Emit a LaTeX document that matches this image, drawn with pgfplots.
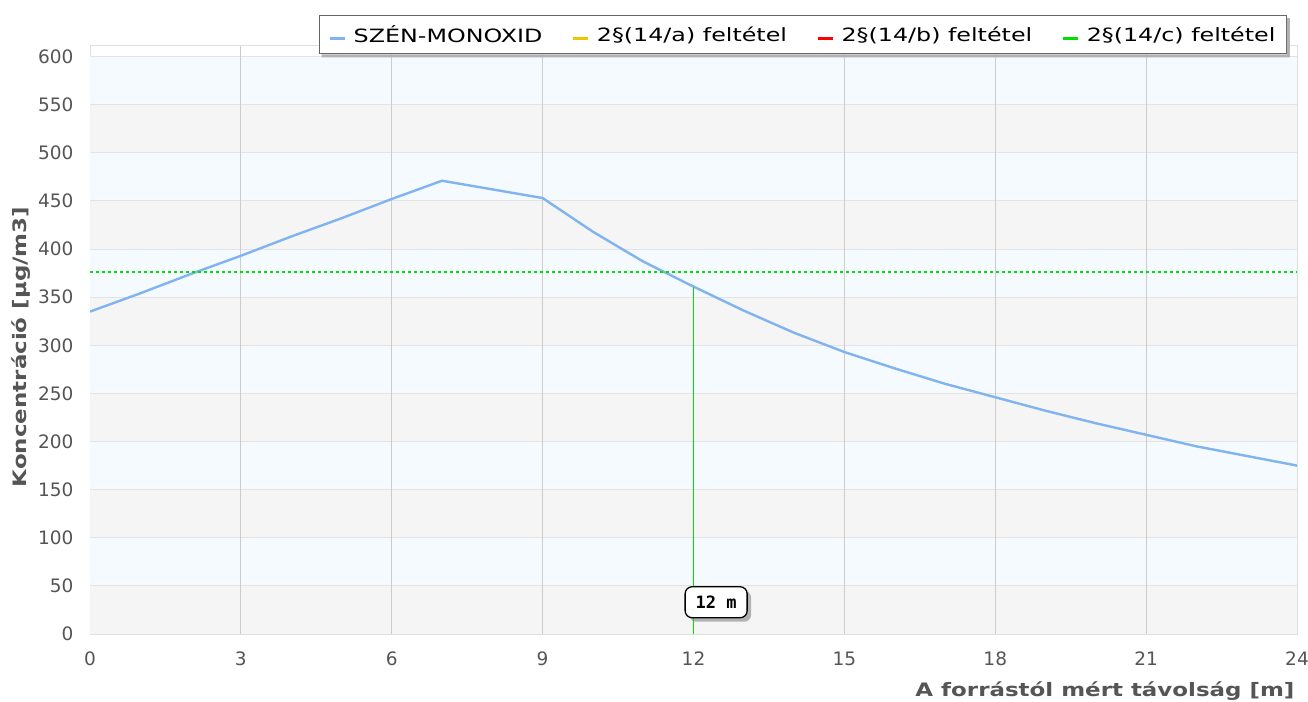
\documentclass[border=0pt]{standalone}
\usepackage{pgfplots}
\pgfplotsset{compat=1.18}
\usepackage{fontspec}
\setmainfont{DejaVu Sans}
\newfontfamily\monofont{DejaVu Sans Mono}
\newfontfamily\widefont[FakeStretch=1.24]{DejaVu Sans}
\newfontfamily\legfont[FakeStretch=1.3]{DejaVu Sans}
\definecolor{bandblue}{HTML}{F5FAFF}
\definecolor{bandgray}{HTML}{F5F5F5}
\definecolor{gridv}{HTML}{CCCCCC}
\definecolor{gridh}{HTML}{E3E3E3}
\definecolor{framec}{HTML}{E0E0E0}
\definecolor{tickc}{HTML}{555555}
\definecolor{seriesblue}{HTML}{80B4EE}
\definecolor{limgreen}{HTML}{00E000}
\definecolor{limyellow}{HTML}{E8C800}
\definecolor{limred}{HTML}{FF0000}
\begin{document}
\begin{tikzpicture}
\path[use as bounding box] (0pt,0pt) rectangle (1308pt,701pt);
\begin{axis}[
  at={(90pt,67pt)}, anchor=south west,
  scale only axis, width=1207pt, height=588pt,
  xmin=0, xmax=24, ymin=0, ymax=611,
  xtick={0,3,...,24}, ytick={0,50,...,600},
  /pgf/number format/assume math mode=true,
  axis line style={framec, line width=1pt},
  tick style={draw=none},
  ticklabel style={font=\fontsize{18.5}{21}\selectfont, text=tickc},
  yticklabel style={xshift=-13pt},
  xticklabel style={yshift=-14pt},
  xlabel={A forrástól mért távolság [m]},
  ylabel={Koncentráció [µg/m3]},
  xlabel style={font=\widefont\bfseries\fontsize{18.5}{22}\selectfont, text=tickc, at={(rel axis cs:1,0)}, anchor=north east, yshift=-44pt, xshift=1pt},
  ylabel style={font=\widefont\bfseries\fontsize{18.5}{22}\selectfont, text=tickc, yshift=1pt, xshift=-7pt},
  legend columns=4,
  legend style={at={(rel axis cs:0.9917,1.0527)}, anchor=north east, name=leg,
    draw=black!60, line width=1pt, fill=white,
    font=\legfont\fontsize{18.3}{22}\selectfont, inner xsep=9pt, inner ysep=8pt,
    /tikz/every even column/.append style={column sep=27pt}},
  legend image code/.code={\path[draw=none] (0pt,0pt) -- (22pt,0pt); \draw[#1, solid, line width=3pt] (0pt,-4pt) -- (15pt,-4pt);},
]
% background bands
\fill[bandgray] (axis cs:0,0) rectangle (axis cs:24,50);
\fill[bandblue] (axis cs:0,50) rectangle (axis cs:24,100);
\fill[bandgray] (axis cs:0,100) rectangle (axis cs:24,150);
\fill[bandblue] (axis cs:0,150) rectangle (axis cs:24,200);
\fill[bandgray] (axis cs:0,200) rectangle (axis cs:24,250);
\fill[bandblue] (axis cs:0,250) rectangle (axis cs:24,300);
\fill[bandgray] (axis cs:0,300) rectangle (axis cs:24,350);
\fill[bandblue] (axis cs:0,350) rectangle (axis cs:24,400);
\fill[bandgray] (axis cs:0,400) rectangle (axis cs:24,450);
\fill[bandblue] (axis cs:0,450) rectangle (axis cs:24,500);
\fill[bandgray] (axis cs:0,500) rectangle (axis cs:24,550);
\fill[bandblue] (axis cs:0,550) rectangle (axis cs:24,600);
% grid
\pgfplotsinvokeforeach{50,100,...,600}{\draw[gridh, line width=1pt] (axis cs:0,#1) -- (axis cs:24,#1);}
\pgfplotsinvokeforeach{3,6,9,15,18,21}{\draw[gridv, line width=1pt] (axis cs:#1,0) -- (axis cs:#1,611);}
\addplot[seriesblue, line width=2.4pt] coordinates {
(0,335) (1,354) (2,374) (3,393) (4,413) (5,432) (6,452) (7,471) (8,462) (9,453)
(10,418) (11,387) (12,361) (13,336) (14,313) (15,293) (16,276) (17,260) (18,246)
(19,232) (20,219) (21,207) (22,195) (23,185) (24,175)};
\addlegendentry{SZÉN-MONOXID}
\addlegendimage{limyellow}
\addlegendentry{2§(14/a) feltétel}
\addlegendimage{limred}
\addlegendentry{2§(14/b) feltétel}
\addlegendimage{limgreen}
\addlegendentry{2§(14/c) feltétel}
\addplot[draw=limgreen, line width=1.6pt, dash pattern=on 3pt off 3pt, forget plot] coordinates {(0,376) (24,376)};
\fill[black!30, rounded corners=7pt] ([xshift=4pt,yshift=-4pt]axis cs:12.45,33) ++(-31pt,-15.5pt) rectangle ++(62pt,31pt);
\addplot[draw=limgreen, line width=1.8pt, solid, forget plot] coordinates {(12,0) (12,361)};
\node[draw=black, fill=white, rounded corners=7pt, line width=1.3pt,
  minimum width=62pt, minimum height=31pt, inner sep=2pt,
  font=\monofont\bfseries\fontsize{17}{20}\selectfont]
  at (axis cs:12.45,33) {12 m};
\end{axis}
\fill[black!30] ([xshift=3pt]leg.south west) -- (leg.south east) -- ([yshift=-3pt]leg.north east)
  -- ([xshift=3pt,yshift=-3pt]leg.north east) -- ([xshift=3pt,yshift=-3pt]leg.south east) -- ([xshift=3pt,yshift=-3pt]leg.south west) -- cycle;
\end{tikzpicture}
\end{document}
